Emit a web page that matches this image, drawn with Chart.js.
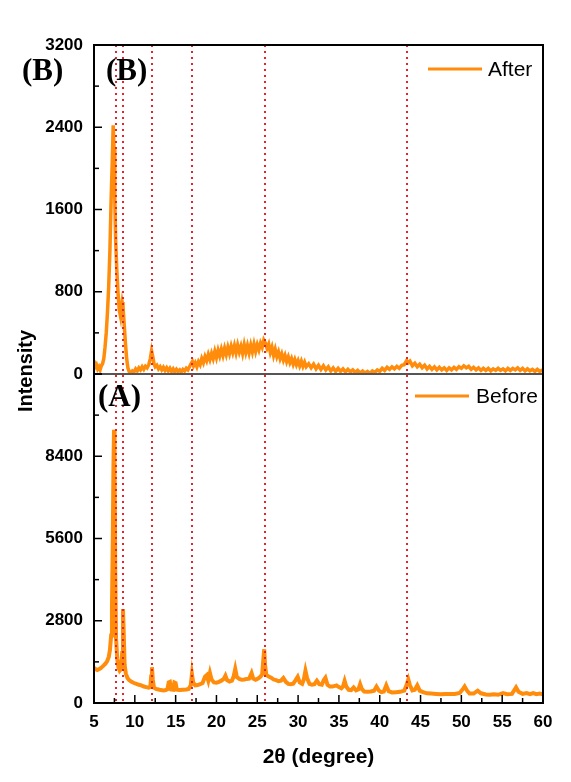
<!DOCTYPE html>
<html><head><meta charset="utf-8">
<script src="https://cdn.jsdelivr.net/npm/chart.js@4.4.0/dist/chart.umd.min.js"></script>
<style>html,body{margin:0;padding:0;background:#fff;}#wrap{width:571px;height:782px;position:relative}</style>
</head><body><div id="wrap"><canvas id="c" width="571" height="782"></canvas></div>
<script>
// ---- data ----
const xTicksRange = [5, 60];
const topTicks = [0, 800, 1600, 2400, 3200];
const bottomTicks = [0, 2800, 5600, 8400, 11200];
const peakLines = [7.7, 8.6, 12.1, 17.0, 25.9, 43.4];
const panelLabels = ['(B)', '(B)', '(A)'];
const seriesNames = ['After', 'Before'];

const afterTheta = [5.0,5.15,5.3,5.45,5.6,5.75,5.9,6.05,6.2,6.35,6.5,6.65,6.8,6.95,7.1,7.25,7.35,7.45,7.55,7.65,7.8,7.95,8.1,8.25,8.35,8.45,8.55,8.7,8.85,9.0,9.15,9.3,9.5,9.7,9.9,10.1,10.3,10.5,10.7,10.9,11.1,11.3,11.5,11.7,11.9,12.05,12.2,12.35,12.5,12.7,12.9,13.1,13.3,13.5,13.7,13.9,14.1,14.3,14.5,14.7,14.9,15.1,15.3,15.5,15.7,15.9,16.1,16.3,16.5,16.7,16.9,17.05,17.2,17.4,17.6,17.8,18.0,18.2,18.4,18.6,18.8,19.0,19.2,19.4,19.6,19.8,20.0,20.2,20.4,20.6,20.8,21.0,21.2,21.4,21.6,21.8,22.0,22.2,22.4,22.6,22.8,23.0,23.2,23.4,23.6,23.8,24.0,24.2,24.4,24.6,24.8,25.0,25.2,25.4,25.6,25.8,26.0,26.2,26.4,26.6,26.8,27.0,27.2,27.4,27.6,27.8,28.0,28.2,28.4,28.6,28.8,29.0,29.2,29.4,29.6,29.8,30.0,30.2,30.4,30.6,30.8,31.0,31.3,31.6,31.9,32.2,32.5,32.8,33.1,33.4,33.7,34.0,34.3,34.6,34.9,35.2,35.5,35.8,36.1,36.4,36.7,37.0,37.3,37.6,37.9,38.2,38.5,38.8,39.1,39.4,39.7,40.0,40.3,40.6,40.9,41.2,41.5,41.8,42.1,42.4,42.7,43.0,43.3,43.5,43.7,44.0,44.3,44.6,44.9,45.2,45.5,45.8,46.1,46.4,46.7,47.0,47.3,47.6,47.9,48.2,48.5,48.8,49.1,49.4,49.7,50.0,50.3,50.6,50.9,51.2,51.5,51.8,52.1,52.4,52.7,53.0,53.3,53.6,53.9,54.2,54.5,54.8,55.1,55.4,55.7,56.0,56.3,56.6,56.9,57.2,57.5,57.8,58.1,58.4,58.7,59.0,59.3,59.6,60.0];
const afterIntensity = [130,70,90,50,70,40,80,100,150,260,400,600,850,1200,1700,2100,2420,2200,1700,1300,1000,780,620,560,640,700,660,480,300,150,60,25,10,30,20,50,30,60,40,70,45,75,60,90,150,225,170,100,70,85,50,70,40,65,35,60,30,55,25,50,20,45,25,40,20,45,30,55,40,70,100,120,80,110,70,120,90,150,110,170,130,190,140,200,150,220,160,230,175,240,180,250,190,260,200,270,210,275,205,280,215,270,200,285,210,275,205,280,215,290,220,285,235,300,260,330,300,250,290,210,260,180,240,170,215,150,195,135,180,120,165,110,150,95,140,90,130,80,125,75,115,70,100,60,95,50,85,45,80,40,70,30,60,25,55,25,50,20,45,20,40,15,35,10,30,10,25,5,30,15,40,25,55,35,65,45,70,50,75,55,85,90,130,110,125,80,105,70,95,60,85,50,75,45,70,40,65,40,60,35,60,40,65,45,70,55,80,60,75,45,65,40,60,35,55,35,55,30,50,35,55,35,50,30,55,35,55,40,60,35,55,30,50,30,45,25,45,25,40];

const beforeTheta = [5.0,5.2,5.4,5.6,5.8,6.0,6.2,6.4,6.6,6.8,6.95,7.1,7.2,7.3,7.38,7.45,7.52,7.6,7.7,7.85,8.0,8.15,8.3,8.45,8.55,8.62,8.75,8.9,9.1,9.3,9.6,9.9,10.2,10.5,10.8,11.1,11.4,11.7,11.9,12.0,12.1,12.2,12.35,12.6,12.9,13.2,13.5,13.8,14.0,14.15,14.3,14.45,14.7,14.85,15.0,15.15,15.5,15.9,16.3,16.6,16.85,17.0,17.15,17.4,17.7,18.0,18.3,18.6,18.8,19.0,19.2,19.4,19.7,20.0,20.3,20.6,20.9,21.1,21.3,21.6,21.9,22.1,22.3,22.5,22.8,23.1,23.4,23.7,24.0,24.3,24.5,24.8,25.1,25.4,25.6,25.75,25.85,25.95,26.1,26.4,26.7,27.0,27.3,27.6,27.9,28.2,28.5,28.8,29.1,29.4,29.7,29.95,30.2,30.5,30.7,30.9,31.1,31.4,31.7,32.0,32.3,32.6,32.9,33.15,33.35,33.6,33.9,34.2,34.7,35.0,35.3,35.5,35.7,35.9,36.2,36.5,36.8,37.1,37.4,37.6,37.8,38.1,38.5,38.9,39.3,39.6,39.9,40.2,40.5,40.8,41.1,41.5,42.0,42.5,43.0,43.3,43.5,43.7,44.0,44.3,44.6,44.9,45.3,45.8,46.3,46.9,47.5,48.0,48.6,49.2,49.8,50.2,50.4,50.7,51.0,51.5,52.0,52.4,53.0,53.5,54.0,54.5,55.1,55.6,56.2,56.7,57.0,57.5,58.0,58.4,58.8,59.2,59.6,60.0];
const beforeIntensity = [1200,1150,1120,1150,1180,1230,1280,1340,1420,1560,1800,2300,3200,5500,8000,9300,8200,4500,2200,1500,1200,1100,1150,1700,3200,2600,1300,1000,850,780,720,680,650,620,600,560,540,520,540,900,1220,800,520,480,460,440,430,440,470,700,720,460,450,700,680,450,440,450,460,480,600,980,700,600,610,640,680,900,950,760,1020,800,700,690,720,760,820,930,780,730,760,900,1160,880,820,790,800,820,830,1020,830,790,830,900,980,1500,1830,1300,960,900,860,800,780,740,760,850,720,650,640,660,780,890,700,650,800,1100,850,650,620,640,760,640,620,780,860,620,560,560,600,540,500,560,750,560,450,440,530,430,470,640,480,390,380,390,420,560,420,370,390,600,400,360,370,380,420,620,800,600,430,450,600,420,370,330,320,310,300,310,310,310,340,480,560,420,320,320,420,330,290,280,300,280,340,300,310,530,380,310,340,300,340,300,320,300];

// ---- styles ----
const ORANGE = '#FF8C0A';
const RED = '#e3242b';
const SANS = '"Liberation Sans", Arial, sans-serif';
const SERIF = '"Liberation Serif", "Times New Roman", serif';

const toPts = (xs, ys) => xs.map((x, i) => ({x: x, y: ys[i]}));

const decor = {
  id: 'decor',
  afterDatasetsDraw(chart) {
    const ctx = chart.ctx, a = chart.chartArea;
    const xs = chart.scales.x, yt = chart.scales.yTop, yb = chart.scales.yBot;
    ctx.save();
    // dotted peak lines
    ctx.strokeStyle = RED; ctx.lineWidth = 2; ctx.setLineDash([2, 4]);
    peakLines.forEach(v => {
      const px = Math.round(xs.getPixelForValue(v));
      ctx.beginPath(); ctx.moveTo(px, a.top); ctx.lineTo(px, a.bottom); ctx.stroke();
    });
    ctx.setLineDash([]);
    // separator
    const sep = yt.bottom;
    ctx.strokeStyle = '#555'; ctx.lineWidth = 2;
    ctx.beginPath(); ctx.moveTo(a.left, sep); ctx.lineTo(a.right, sep); ctx.stroke();
    // frame
    ctx.strokeStyle = '#000'; ctx.lineWidth = 2;
    ctx.strokeRect(a.left, a.top, a.right - a.left, a.bottom - a.top);
    // ticks (inward)
    ctx.lineWidth = 1.5;
    const drawY = (sc) => {
      const t = sc.ticks.map(k => k.value);
      t.forEach((v, i) => {
        const py = sc.getPixelForValue(v);
        ctx.beginPath(); ctx.moveTo(a.left, py); ctx.lineTo(a.left + 8, py); ctx.stroke();
        if (i < t.length - 1) {
          const pm = sc.getPixelForValue((v + t[i + 1]) / 2);
          ctx.beginPath(); ctx.moveTo(a.left, pm); ctx.lineTo(a.left + 5, pm); ctx.stroke();
        }
      });
    };
    drawY(yt); drawY(yb);
    const xt = xs.ticks.map(k => k.value);
    xt.forEach((v, i) => {
      const px = xs.getPixelForValue(v);
      ctx.beginPath(); ctx.moveTo(px, a.bottom); ctx.lineTo(px, a.bottom - 8); ctx.stroke();
      if (i < xt.length - 1) {
        const pm = xs.getPixelForValue((v + xt[i + 1]) / 2);
        ctx.beginPath(); ctx.moveTo(pm, a.bottom); ctx.lineTo(pm, a.bottom - 5); ctx.stroke();
      }
    });
    // legends
    const legend = (sc, name, yOff) => {
      const ly = sc.top + yOff;
      ctx.strokeStyle = ORANGE; ctx.lineWidth = 3;
      ctx.beginPath(); ctx.moveTo(a.right - (name === 'After' ? 115 : 128), ly); ctx.lineTo(a.right - (name === 'After' ? 61 : 74), ly); ctx.stroke();
      ctx.fillStyle = '#000'; ctx.font = '21px ' + SANS; ctx.textAlign = 'left'; ctx.textBaseline = 'middle';
      ctx.fillText(name, a.right - (name === 'After' ? 55 : 67), ly + 1);
    };
    legend(yt, seriesNames[0], 24);
    legend(yb, seriesNames[1], 22);
    // panel labels
    ctx.fillStyle = '#000'; ctx.font = 'bold 31px ' + SERIF; ctx.textAlign = 'left'; ctx.textBaseline = 'middle';
    ctx.fillText(panelLabels[0], 22, yt.top + 27);
    ctx.fillText(panelLabels[1], 106, yt.top + 27);
    ctx.fillText(panelLabels[2], 98, yb.top + 24);
    // axis titles
    ctx.font = 'bold 20px ' + SANS; ctx.textAlign = 'center';
    ctx.save(); ctx.translate(26, (a.top + a.bottom) / 2 - 3); ctx.rotate(-Math.PI / 2);
    ctx.fillText('Intensity', 0, 0); ctx.restore();
    ctx.font = 'bold 21px ' + SANS;
    ctx.fillText('2\u03B8 (degree)', (a.left + a.right) / 2, 757);
    ctx.restore();
  }
};

const tickFont = {family: SANS, weight: 'bold', size: 17};
const noGrid = {display: false, drawTicks: false};

new Chart(document.getElementById('c'), {
  type: 'line',
  data: {
    datasets: [
      {label: seriesNames[1], data: toPts(beforeTheta, beforeIntensity), xAxisID: 'x', yAxisID: 'yBot', borderColor: ORANGE, borderWidth: 4, pointRadius: 0, tension: 0, fill: false},
      {label: seriesNames[0], data: toPts(afterTheta, afterIntensity), xAxisID: 'x', yAxisID: 'yTop', borderColor: ORANGE, borderWidth: 3.5, pointRadius: 0, tension: 0, fill: false}
    ]
  },
  options: {
    responsive: false, animation: false, devicePixelRatio: 1,
    layout: {padding: {top: 45, right: 28, left: 0, bottom: 0}},
    plugins: {legend: {display: false}, tooltip: {enabled: false}},
    scales: {
      x: {type: 'linear', min: xTicksRange[0], max: xTicksRange[1],
        ticks: {stepSize: 5, font: tickFont, color: '#000', padding: 9, maxRotation: 0},
        grid: noGrid, border: {display: false},
        afterFit(s) { s.height = 79; }},
      yBot: {type: 'linear', position: 'left', stack: 'v', stackWeight: 1, min: bottomTicks[0], max: bottomTicks[bottomTicks.length - 1],
        afterBuildTicks(s) { s.ticks = bottomTicks.map(v => ({value: v})); },
        ticks: {font: tickFont, color: '#000', padding: 11, callback: v => v === bottomTicks[bottomTicks.length - 1] ? '' : String(v)},
        grid: noGrid, border: {display: false},
        afterFit(s) { s.width = 94; }},
      yTop: {type: 'linear', position: 'left', stack: 'v', stackWeight: 1, min: topTicks[0], max: topTicks[topTicks.length - 1],
        afterBuildTicks(s) { s.ticks = topTicks.map(v => ({value: v})); },
        ticks: {font: tickFont, color: '#000', padding: 11, callback: v => String(v)},
        grid: noGrid, border: {display: false},
        afterFit(s) { s.width = 94; }}
    }
  },
  plugins: [decor]
});
</script>
</body></html>
